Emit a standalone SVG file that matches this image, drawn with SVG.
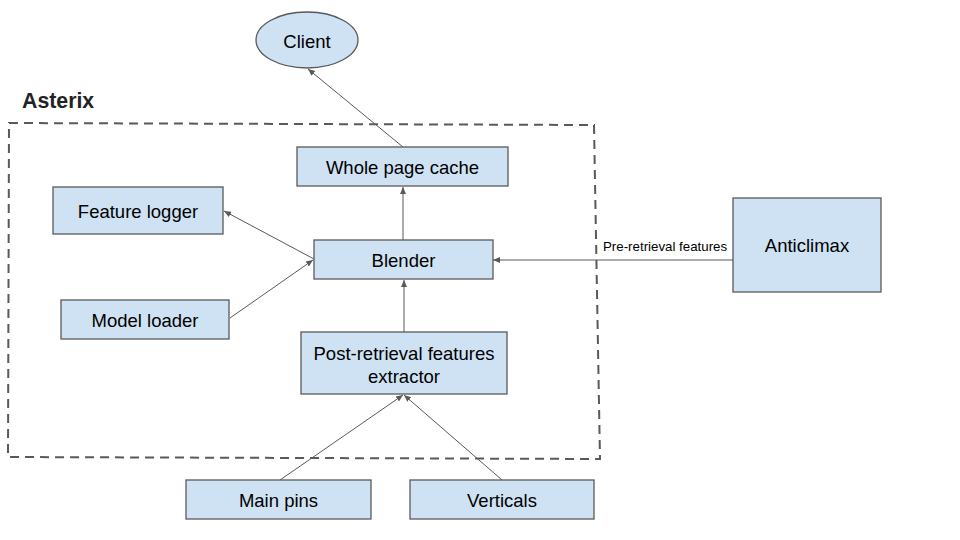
<svg xmlns="http://www.w3.org/2000/svg" width="960" height="540" viewBox="0 0 960 540">
<style>
.n{fill:#cfe2f3;stroke:#595959;stroke-width:1.3}
.t{font-family:"Liberation Sans",Arial,sans-serif;font-size:18.5px;fill:#000;text-anchor:middle}
.c{stroke:#595959;stroke-width:1;fill:none;marker-end:url(#a)}
.lbl{font-family:"Liberation Sans",Arial,sans-serif;font-size:13.3px;fill:#000}
</style>
<defs>
<marker id="a" markerWidth="8" markerHeight="8" refX="7" refY="4" orient="auto" markerUnits="userSpaceOnUse">
<path d="M0,1 L7,4 L0,7 Z" fill="#595959"/>
</marker>
</defs>
<rect width="960" height="540" fill="#fff"/>
<g id="asterix">
<polygon points="9,123 594,125 600,459 8,457" fill="none" stroke="#595959" stroke-width="2" stroke-dasharray="9,6"/>
<text x="22" y="108" font-family="'Liberation Sans',Arial,sans-serif" font-size="21.3px" font-weight="bold" fill="#222">Asterix</text>
</g>
<g id="connectors">
<line class="c" x1="403" y1="147" x2="308" y2="69"/>
<line class="c" x1="403" y1="240" x2="403" y2="187"/>
<line class="c" x1="314" y1="259" x2="224" y2="211"/>
<line class="c" x1="230" y1="318" x2="313" y2="260"/>
<line class="c" x1="404" y1="332" x2="404" y2="280"/>
<line class="c" x1="733" y1="260" x2="493" y2="260"/>
<line class="c" x1="280" y1="480" x2="403" y2="395"/>
<line class="c" x1="502" y1="480" x2="404" y2="395"/>
<text class="lbl" x="603" y="251">Pre-retrieval features</text>
</g>
<g id="client"><ellipse class="n" cx="307" cy="40" rx="51" ry="28"/><text class="t" x="307" y="47.5">Client</text></g>
<g id="whole-page-cache"><rect class="n" x="297" y="147" width="211" height="39"/><text class="t" x="402.5" y="174">Whole page cache</text></g>
<g id="feature-logger"><rect class="n" x="53" y="187" width="170" height="47"/><text class="t" x="138" y="217.5">Feature logger</text></g>
<g id="blender"><rect class="n" x="314" y="240" width="179" height="39"/><text class="t" x="403.5" y="267">Blender</text></g>
<g id="model-loader"><rect class="n" x="61" y="300" width="168" height="39"/><text class="t" x="145" y="327">Model loader</text></g>
<g id="post-retrieval"><rect class="n" x="301" y="332" width="206" height="62"/><text class="t" x="404" y="359.5">Post-retrieval features</text><text class="t" x="404" y="382.5">extractor</text></g>
<g id="anticlimax"><rect class="n" x="733" y="198" width="148" height="94"/><text class="t" x="807" y="252">Anticlimax</text></g>
<g id="main-pins"><rect class="n" x="186" y="480" width="185" height="39"/><text class="t" x="278.5" y="507">Main pins</text></g>
<g id="verticals"><rect class="n" x="410" y="480" width="184" height="39"/><text class="t" x="502" y="507">Verticals</text></g>
</svg>
